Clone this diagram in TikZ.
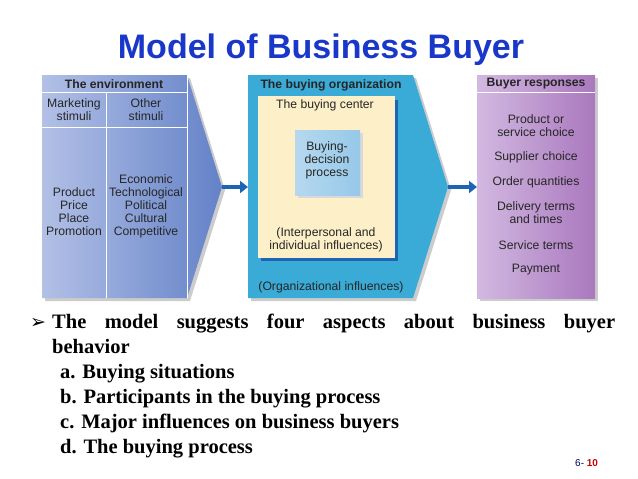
\documentclass[tikz,border=0pt]{standalone}
\usetikzlibrary{arrows.meta}
\usepackage{fontspec}
\setmainfont{Liberation Serif}
\setsansfont{Liberation Sans}
\newfontfamily\dejavu{DejaVu Sans}
\definecolor{envL}{RGB}{178,192,230}
\definecolor{envR}{RGB}{100,130,200}
\definecolor{orgC}{RGB}{58,170,215}
\definecolor{cream}{RGB}{253,240,200}
\definecolor{procC}{RGB}{150,200,232}
\definecolor{respL}{RGB}{210,185,225}
\definecolor{respR}{RGB}{170,120,190}
\definecolor{titleC}{RGB}{25,55,200}
\definecolor{arrC}{RGB}{30,100,180}
\begin{document}
\begin{tikzpicture}[x=1pt,y=-1pt,
  lab/.style={font=\sffamily\fontsize{12.2}{13}\selectfont,text=black!85,align=center,inner sep=0},
  hdr/.style={font=\sffamily\bfseries\fontsize{12.2}{13}\selectfont,text=black!85,inner sep=0},
  arr/.style={-{Triangle[length=8pt,width=12pt]},line width=4pt,draw=arrC},
  bl/.style={font=\bfseries\fontsize{20.5}{24}\selectfont,anchor=base west,inner sep=0}]
\useasboundingbox (0,0) rectangle (638,479);
\fill[white] (0,0) rectangle (638,479);
\node[font=\sffamily\bfseries\fontsize{34}{38}\selectfont,text=titleC] (title) at (321,50) {Model of Business Buyer};
% environment
\fill[black!20] (45,78) -- (190,78) -- (225,190) -- (190,301) -- (45,301) -- cycle;
\shade[left color=envL,right color=envR] (42,75) -- (187,75) -- (222,187) -- (187,298) -- (42,298) -- cycle;
\draw[white,line width=0.8pt] (42,92) -- (187,92) (42,127) -- (187,127) (106,92) -- (106,298) (187,75) -- (187,298);
\node[hdr] (envh) at (114,84) {The environment};
\node[lab] (ms) at (74,110) {Marketing\\stimuli};
\node[lab] (os) at (146,110) {Other\\stimuli};
\node[lab] (mlist) at (74,212) {Product\\Price\\Place\\Promotion};
\node[lab] (olist) at (146,206) {Economic\\Technological\\Political\\Cultural\\Competitive};
\coordinate (tip1) at (222,187);
% organization
\fill[black!20] (251,78) -- (416,78) -- (451,190) -- (416,301) -- (251,301) -- cycle;
\fill[orgC] (248,75) -- (413,75) -- (448,187) -- (413,298) -- (248,298) -- cycle;
\coordinate (org) at (248,187);
\coordinate (tip2) at (448,187);
\node[hdr] (orgh) at (331,85) {The buying organization};
\fill[arrC] (261,100) rectangle (398,261);
\fill[cream] (258,96) rectangle (395,258);
\node[lab] (bch) at (325,105) {The buying center};
\fill[black!15] (298,133) rectangle (363,198);
\shade[left color=procC!70!white,right color=procC] (295,130) rectangle (360,195);
\node[lab] (proc) at (327,160) {Buying-\\decision\\process};
\node[lab] (inter) at (326,240) {(Interpersonal and\\individual influences)};
\node[lab] (orgi) at (331,287) {(Organizational influences)};
% responses
\fill[black!20] (480,78) rectangle (598,301);
\shade[left color=respL,right color=respR] (477,75) rectangle (595,298);
\draw[white,line width=0.8pt] (477,92) -- (595,92);
\coordinate (resp) at (477,187);
\node[hdr] (rh) at (536,84) {Buyer responses};
\node[lab] (r1) at (536,126) {Product or\\service choice};
\node[lab] (r2) at (536,157) {Supplier choice};
\node[lab] (r3) at (536,182) {Order quantities};
\node[lab] (r4) at (536,213) {Delivery terms\\and times};
\node[lab] (r5) at (536,245) {Service terms};
\node[lab] (r6) at (536,270) {Payment};
\draw[arr] (tip1) -- (org);
\draw[arr] (tip2) -- (resp);
% bullets
\node[font=\dejavu\bfseries\fontsize{19}{22}\selectfont,anchor=base west,inner sep=0] (bul) at (30,328) {➢};
\node[bl,text width=563pt,align=justify] (b0) at (52,328) {The\hfill model\hfill suggests\hfill four\hfill aspects\hfill about\hfill business\hfill buyer};
\node[bl] (b1) at (52,353) {behavior};
\node[bl] (b2) at (60,378) {a. Buying situations};
\node[bl] (b3) at (60,403) {b. Participants in the buying process};
\node[bl] (b4) at (60,428) {c. Major influences on business buyers};
\node[bl] (b5) at (60,453) {d. The buying process};
\node[font=\sffamily\fontsize{10}{11}\selectfont,anchor=base west,inner sep=0] (pg) at (575,466) {\textcolor{blue!40!black}{6-} \textcolor{red!80!black}{\bfseries 10}};
\end{tikzpicture}
\end{document}
